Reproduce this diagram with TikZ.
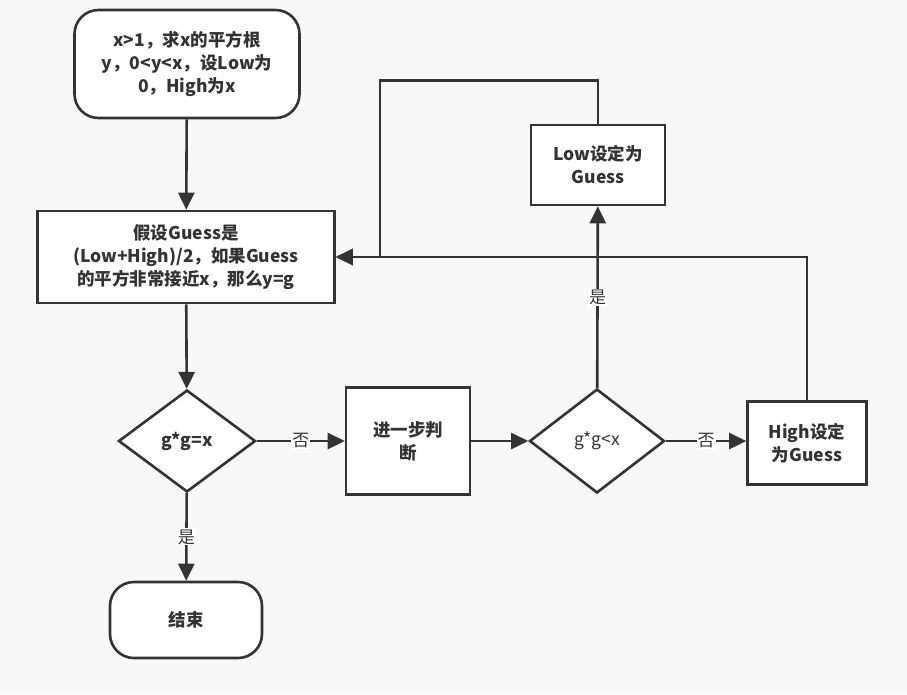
\documentclass[tikz,border=0pt]{standalone}
\usepackage{fontspec}
\setmainfont{Noto Sans CJK SC}
\usetikzlibrary{arrows.meta,shapes.geometric}
\definecolor{ln}{HTML}{333333}
\definecolor{bg}{HTML}{F7F7F7}
\begin{document}
\begin{tikzpicture}[x=1pt,y=-1pt,
  every node/.style={font=\fontsize{17.5}{23}\selectfont\bfseries, text=ln, align=center},
  box/.style={draw=ln, line width=2.6pt, fill=white, inner sep=0pt},
  term/.style={box, rounded corners=24pt},
  dia/.style={draw=ln, line width=2.6pt, fill=white, diamond, aspect=1.35, inner sep=0pt},
  arr/.style={draw=ln, line width=2.6pt, -{Triangle[length=17pt,width=16pt]}},
  lbl/.style={fill=white, font=\fontsize{17}{19}\selectfont, inner sep=1pt}
]
\fill[bg] (0,0) rectangle (907,694);
\useasboundingbox (0,0) rectangle (907,694);

\node[term, minimum width=225pt, minimum height=108pt] (start) at (187,64)
  {x>1，求x的平方根\\y，0<y<x，设Low为\\0，High为x};
\node[box, minimum width=297pt, minimum height=92pt] (guess) at (186,257)
  {假设Guess是\\(Low+High)/2，如果Guess\\的平方非常接近x，那么y=g};
\node[dia, minimum width=137pt, minimum height=102pt] (eq) at (187,441) {g*g=x};
\node[term, minimum width=152pt, minimum height=76pt] (end) at (186,620) {结束};
\node[box, minimum width=124pt, minimum height=107pt] (more) at (408,441) {进一步判\\断};
\node[dia, minimum width=135pt, minimum height=104pt, font=\fontsize{17.5}{23}\selectfont] (lt) at (597,441) {g*g<x};
\node[box, minimum width=119pt, minimum height=83pt] (high) at (807,443) {High设定\\为Guess};
\node[box, minimum width=134pt, minimum height=80pt] (low) at (598,165) {Low设定为\\Guess};
\coordinate (m) at (guess.east);

\draw[arr] (start) -- (guess);
\draw[arr] (guess) -- (eq);
\draw[arr] (eq) -- node[lbl] {是} (end);
\draw[arr] (eq) -- node[lbl] {否} (more);
\draw[arr] (more) -- (lt);
\draw[arr] (lt.east) -- node[lbl] {否} (lt.east -| high.west);
\draw[arr] (lt) -- node[lbl] {是} (low);
\draw[arr] (low.north) -- ++(0,-43) -| (380,257) -- (m);
\draw[arr] (high.north) |- (m);
\end{tikzpicture}
\end{document}
